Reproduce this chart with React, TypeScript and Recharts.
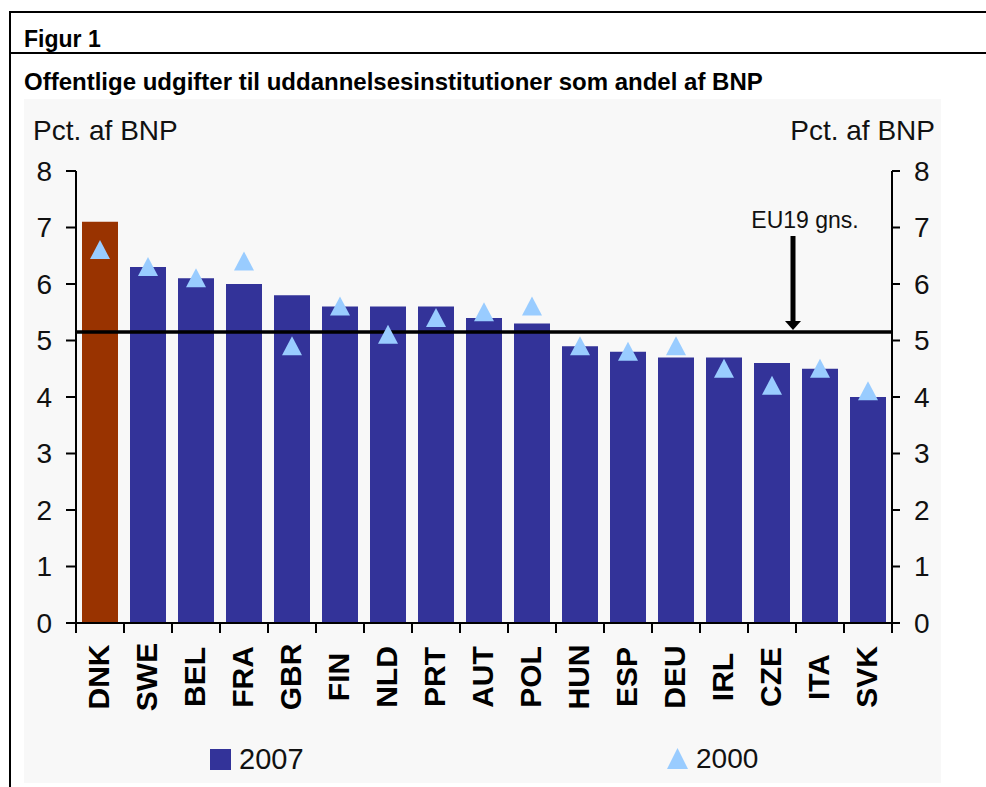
/**
 * Figur 1: public spending on educational institutions as share of GDP.
 */

import React from 'react';
import {
  ComposedChart,
  Bar,
  Line,
  Cell,
  XAxis,
  YAxis,
  ReferenceLine,
} from 'recharts';

// ============================================================================
// DATA
// ============================================================================

const categories = [
  'DNK', 'SWE', 'BEL', 'FRA', 'GBR', 'FIN', 'NLD', 'PRT', 'AUT',
  'POL', 'HUN', 'ESP', 'DEU', 'IRL', 'CZE', 'ITA', 'SVK',
];
const values2007 = [7.1, 6.3, 6.1, 6.0, 5.8, 5.6, 5.6, 5.6, 5.4, 5.3, 4.9, 4.8, 4.7, 4.7, 4.6, 4.5, 4.0];
const values2000 = [6.6, 6.3, 6.1, 6.4, 4.9, 5.6, 5.1, 5.4, 5.5, 5.6, 4.9, 4.8, 4.9, 4.5, 4.2, 4.5, 4.1];
const yTicks = [0, 1, 2, 3, 4, 5, 6, 7, 8];
const euAverage = 5.15;
const arrowTop = 6.85;
const arrowCategory = 'CZE';

const data = categories.map((c, i) => ({
  country: c,
  v2007: values2007[i],
  v2000: values2000[i],
}));

// ============================================================================
// CONSTANTS
// ============================================================================

const FONT = '"Liberation Sans", Arial, Helvetica, sans-serif';
const COLORS = {
  bar: '#333399',
  highlight: '#993300',
  triangle: '#99ccff',
  bg: '#f8f8f8',
};

// ============================================================================
// PARTS
// ============================================================================

const Triangle = (props: any) => {
  const { cx, cy, index } = props;
  if (cx == null || cy == null) return null;
  return (
    <path
      key={`tri-${index}`}
      d={`M${cx},${cy - 10} L${cx + 10},${cy + 9} L${cx - 10},${cy + 9} Z`}
      fill={COLORS.triangle}
    />
  );
};

const CountryTick = (props: any) => {
  const { x, y, payload, width } = props;
  const half = payload?.offset ?? width / categories.length / 2;
  const last = payload?.index === categories.length - 1;
  const ly = y + 54;
  const lx = x - 2;
  return (
    <g>
      <line x1={x - half} y1={y} x2={x - half} y2={y + 10} stroke="#000" strokeWidth={2} />
      {last && <line x1={x + half} y1={y} x2={x + half} y2={y + 10} stroke="#000" strokeWidth={2} />}
      <text
        x={lx}
        y={ly}
        transform={`rotate(-90, ${lx}, ${ly})`}
        textAnchor="middle"
        dominantBaseline="central"
        fontFamily={FONT}
        fontWeight="bold"
        fontSize={30}
        fill="#000"
      >
        {payload.value}
      </text>
    </g>
  );
};

const Arrow = (props: any) => {
  const { x1, y1, y2 } = props;
  if (x1 == null) return null;
  const x = x1 - 3;
  const top = Math.min(y1, y2);
  const bottom = Math.max(y1, y2) - 2;
  return (
    <g>
      <line x1={x} y1={top} x2={x} y2={bottom - 8} stroke="#000" strokeWidth={5} />
      <path d={`M${x - 8},${bottom - 9} L${x + 8},${bottom - 9} L${x},${bottom} Z`} fill="#000" />
      <text
        x={x + 12}
        y={top - 8}
        textAnchor="middle"
        fontFamily={FONT}
        fontSize={23}
        fill="#111"
      >
        EU19 gns.
      </text>
    </g>
  );
};

// ============================================================================
// COMPONENT
// ============================================================================

export default function App() {
  const tickStyle = { fill: '#111', fontSize: 28, fontFamily: FONT };

  return (
    <div
      style={{
        position: 'absolute',
        left: 0,
        top: 0,
        width: 986,
        height: 787,
        background: '#fff',
        fontFamily: FONT,
        overflow: 'hidden',
      }}
    >
      {/* frame */}
      <div style={{ position: 'absolute', left: 9, top: 11, width: 977, height: 2, background: '#000' }} />
      <div style={{ position: 'absolute', left: 9, top: 11, width: 2, height: 776, background: '#000' }} />
      <div style={{ position: 'absolute', left: 9, top: 52, width: 977, height: 2, background: '#000' }} />

      <div style={{ position: 'absolute', left: 24, top: 25, fontSize: 23, fontWeight: 'bold', lineHeight: '28px' }}>
        Figur 1
      </div>
      <div style={{ position: 'absolute', left: 24, top: 68, fontSize: 24, fontWeight: 'bold', lineHeight: '28px' }}>
        Offentlige udgifter til uddannelsesinstitutioner som andel af BNP
      </div>

      {/* chart area */}
      <div style={{ position: 'absolute', left: 24, top: 99, width: 917, height: 684, background: COLORS.bg }}>
        <div style={{ position: 'absolute', left: 9, top: 16, fontSize: 28, color: '#111', lineHeight: '32px' }}>
          Pct. af BNP
        </div>
        <div style={{ position: 'absolute', right: 6, top: 16, fontSize: 28, color: '#111', lineHeight: '32px' }}>
          Pct. af BNP
        </div>

        <ComposedChart
          width={917}
          height={684}
          data={data}
          margin={{ top: 72, right: 9, left: 12, bottom: 60 }}
          barCategoryGap="12.5%"
        >
          <XAxis
            dataKey="country"
            xAxisId="x"
            interval={0}
            height={100}
            axisLine={{ stroke: '#000', strokeWidth: 2 }}
            tickLine={false}
            tickSize={0}
            tickMargin={0}
            tick={<CountryTick />}
          />
          <YAxis
            yAxisId="left"
            width={40}
            domain={[0, 8]}
            ticks={yTicks}
            interval={0}
            axisLine={{ stroke: '#000', strokeWidth: 2 }}
            tickLine={{ stroke: '#000', strokeWidth: 2 }}
            tickSize={10}
            tickMargin={14}
            tick={tickStyle}
          />
          <YAxis
            yAxisId="right"
            orientation="right"
            width={40}
            domain={[0, 8]}
            ticks={yTicks}
            interval={0}
            axisLine={{ stroke: '#000', strokeWidth: 2 }}
            tickLine={{ stroke: '#000', strokeWidth: 2 }}
            tickSize={8}
            tickMargin={14}
            tick={{ ...tickStyle, textAnchor: 'start' }}
          />

          <Bar xAxisId="x" yAxisId="left" dataKey="v2007" fill={COLORS.bar} isAnimationActive={false}>
            {data.map((d, i) => (
              <Cell key={d.country} fill={i === 0 ? COLORS.highlight : COLORS.bar} />
            ))}
          </Bar>

          {/* invisible series so the right-hand axis gets its ticks */}
          <Line
            xAxisId="x"
            yAxisId="right"
            dataKey="v2007"
            stroke="none"
            dot={false}
            activeDot={false}
            legendType="none"
            isAnimationActive={false}
          />

          <Line
            xAxisId="x"
            yAxisId="left"
            dataKey="v2000"
            stroke="none"
            dot={<Triangle />}
            activeDot={false}
            isAnimationActive={false}
          />

          <ReferenceLine
            xAxisId="x"
            yAxisId="left"
            y={euAverage}
            stroke="#000"
            strokeWidth={3.5}
          />
          <ReferenceLine
            xAxisId="x"
            yAxisId="left"
            segment={[
              { x: arrowCategory, y: arrowTop },
              { x: arrowCategory, y: euAverage },
            ]}
            position="end"
            shape={<Arrow />}
          />
        </ComposedChart>

        {/* legend */}
        <div style={{ position: 'absolute', left: 186, top: 650, width: 21, height: 21, background: COLORS.bar }} />
        <div style={{ position: 'absolute', left: 215, top: 644, fontSize: 29, color: '#111', lineHeight: '32px' }}>
          2007
        </div>
        <svg style={{ position: 'absolute', left: 643, top: 649 }} width={21} height={22}>
          <path d="M10.5,0 L21,21 L0,21 Z" fill={COLORS.triangle} />
        </svg>
        <div style={{ position: 'absolute', left: 672, top: 644, fontSize: 28, color: '#111', lineHeight: '32px' }}>
          2000
        </div>
      </div>
    </div>
  );
}
